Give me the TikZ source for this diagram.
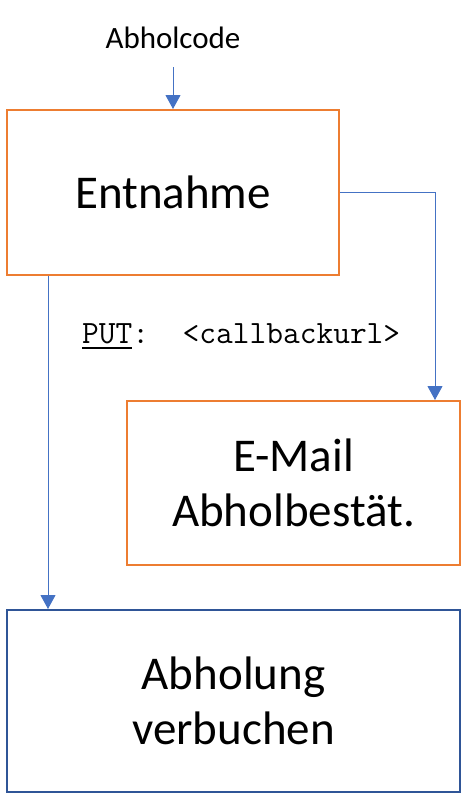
\documentclass[tikz,border=0pt]{standalone}
\usepackage{fontspec}
\setmainfont{Carlito}
\newfontfamily\codefont{Latin Modern Mono}
\usetikzlibrary{arrows.meta,positioning}

\definecolor{kastenorange}{RGB}{237,125,49}
\definecolor{pfeilblau}{RGB}{68,114,196}
\definecolor{kastenblau}{RGB}{47,85,151}
\newcommand{\unterstr}[1]{\setbox0\hbox{#1}\rlap{\rule[-6pt]{\wd0}{2.3pt}}\box0}

\begin{document}
\begin{tikzpicture}[
  x=1pt, y=-1pt,
  node distance=60pt,
  >={Triangle[length=14pt,width=15pt]},
  kasten/.style={
    rectangle,
    draw=kastenorange,
    line width=2pt,
    align=center,
    inner sep=0pt,
    font=\fontsize{47}{55}\selectfont
  },
  pfeil/.style={->, draw=pfeilblau, line width=1pt}
]
\useasboundingbox (0,0) rectangle (464,793);

\node[kasten, minimum width=332pt, minimum height=165pt] (entnahme) at (173,192.5) {Entnahme};

\node[above=of entnahme, inner sep=0pt, font=\fontsize{31}{37}\selectfont] (code) {Abholcode};

\node[kasten, minimum width=333pt, minimum height=164pt] (mail) at (293.5,483) {E-Mail\\
Abholbestät.};

\node[kasten, draw=kastenblau, minimum width=453pt, minimum height=182pt] (buchung) at (233.5,701) {Abholung\\
verbuchen};

\node[anchor=base west, inner sep=0pt, font=\codefont\fontsize{32.5}{38}\selectfont] (put) at (82,343) {\unterstr{PUT}:\ \ <callbackurl>};

% Pfeile
\draw[pfeil, shorten <=18pt] (code) -- (entnahme);
\draw[pfeil] (entnahme.east) -| ([xshift=-26pt]mail.north east);
\draw[pfeil] ([xshift=42pt]entnahme.south west) -- ([xshift=42pt]buchung.north west);

\end{tikzpicture}
\end{document}
